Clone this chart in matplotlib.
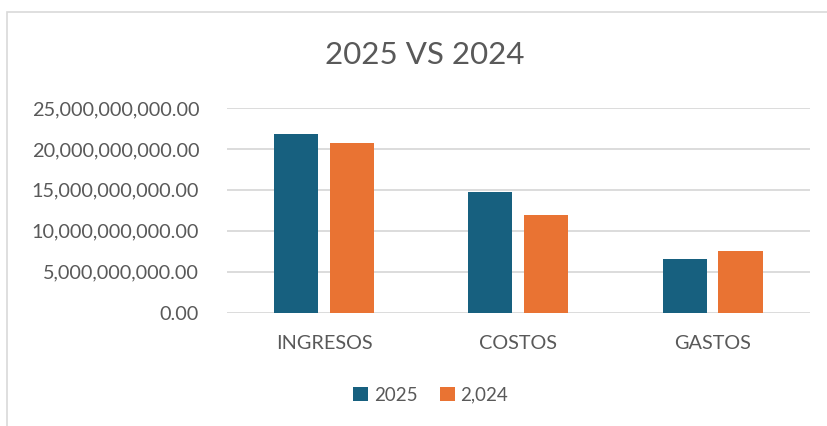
import matplotlib.pyplot as plt
import numpy as np
from matplotlib.patches import Rectangle
from matplotlib.ticker import FuncFormatter

# data
categories = ['INGRESOS', 'COSTOS', 'GASTOS']
series_names = ['2025', '2,024']
vals_2025 = [21.85e9, 14.70e9, 6.49e9]
vals_2024 = [20.67e9, 11.89e9, 7.50e9]

blue = '#17607f'
orange = '#e97333'
txt = '#595959'

plt.rcParams['font.family'] = ['Lato', 'DejaVu Sans']

fig = plt.figure(figsize=(8.28, 4.26), dpi=100)
ax = fig.add_axes([0.274, 0.2664, 0.704, 0.4801])

x = np.arange(len(categories))
w = 0.227
off = w / 2 + 0.03
ax.bar(x - off, vals_2025, w, color=blue, label=series_names[0], zorder=3)
ax.bar(x + off, vals_2024, w, color=orange, label=series_names[1], zorder=3)

ax.set_xlim(-0.5, 2.5)
ax.set_ylim(0, 25e9)
ax.set_yticks(np.arange(0, 25e9 + 1, 5e9))
ax.yaxis.set_major_formatter(FuncFormatter(lambda v, p: '{:,.2f}'.format(v)))
ax.set_xticks(x)
ax.set_xticklabels(categories)
ax.grid(axis='y', color='#d9d9d9', lw=1.3, zorder=0)
for s in ax.spines.values():
    s.set_visible(False)
ax.tick_params(length=0, labelsize=14.3, colors=txt)
ax.tick_params(axis='y', pad=20)
ax.tick_params(axis='x', pad=16)

fig.text(0.513, 0.872, '2025 VS 2024', ha='center', va='center', fontsize=22.5, color=txt)

leg = fig.legend(loc='center', bbox_to_anchor=(0.52, 0.072), ncol=2, frameon=False,
                 fontsize=13.5, handlelength=0.8, handleheight=0.8, handletextpad=0.3,
                 columnspacing=1.2)
for t in leg.get_texts():
    t.set_color(txt)

# chart frame
fig.patches.append(Rectangle((7 / 828, -0.01), 1.0, 1 - 12 / 426 + 0.01, transform=fig.transFigure,
                             fill=False, edgecolor='#d9d9d9', lw=1.2))

plt.savefig('out.png', dpi=100)
